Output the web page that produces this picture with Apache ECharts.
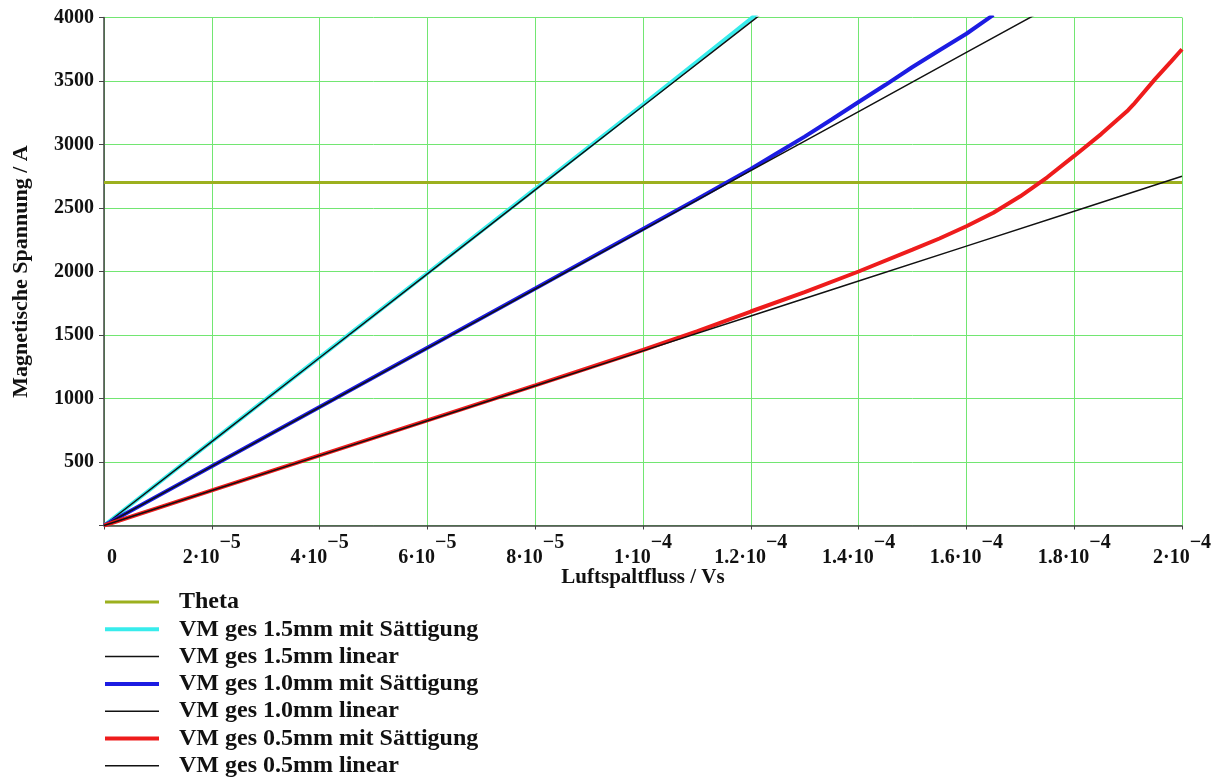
<!DOCTYPE html>
<html>
<head>
<meta charset="utf-8">
<title>Magnetische Spannung über Luftspaltfluss</title>
<script src="https://cdn.jsdelivr.net/npm/echarts@6/dist/echarts.min.js"></script>
<style>
  html, body { margin: 0; padding: 0; background: #ffffff; }
  #chart { width: 1219px; height: 780px; }
</style>
</head>
<body>
<div id="chart"></div>
<script>
// Luftspaltfluss in Vs (x) against magnetische Spannung in A (y)
var fluxTicks = [0, 2e-5, 4e-5, 6e-5, 8e-5, 1e-4, 1.2e-4, 1.4e-4, 1.6e-4, 1.8e-4, 2e-4];
var xTickLabels = [
  ['0', ''], ['2·10', '−5'], ['4·10', '−5'], ['6·10', '−5'], ['8·10', '−5'],
  ['1·10', '−4'], ['1.2·10', '−4'], ['1.4·10', '−4'], ['1.6·10', '−4'],
  ['1.8·10', '−4'], ['2·10', '−4']
];

var theta = 2700;

// linear models, sampled at the grid ticks
var lin15 = [0, 661, 1321, 1982, 2642, 3303, 3964, 4624];
var lin10 = [0, 466, 931, 1397, 1862, 2328, 2794, 3259, 3725, 4190];
var lin05 = [0, 275, 550, 825, 1100, 1375, 1650, 1925, 2200, 2475, 2750];

// curves including saturation
var sat15Flux = [0, 2e-5, 4e-5, 6e-5, 8e-5, 1e-4, 1.1e-4, 1.2e-4, 1.23e-4];
var sat15 = [0, 662, 1324, 1986, 2650, 3315, 3652, 3990, 4100];

var sat10Flux = [0, 2e-5, 4e-5, 6e-5, 8e-5, 1e-4, 1.1e-4, 1.2e-4, 1.25e-4, 1.3e-4, 1.35e-4,
                 1.4e-4, 1.45e-4, 1.5e-4, 1.55e-4, 1.6e-4, 1.65e-4];
var sat10 = [0, 467, 933, 1400, 1866, 2335, 2568, 2808, 2935, 3062, 3197,
             3335, 3470, 3610, 3742, 3872, 4020];

var sat05Flux = [0, 2e-5, 4e-5, 6e-5, 8e-5, 1e-4, 1.1e-4, 1.2e-4, 1.3e-4, 1.4e-4, 1.5e-4,
                 1.55e-4, 1.6e-4, 1.65e-4, 1.7e-4, 1.75e-4, 1.8e-4, 1.85e-4, 1.9e-4,
                 1.91e-4, 1.95e-4, 1.98e-4, 2e-4];
var sat05 = [0, 276, 552, 828, 1104, 1382, 1528, 1685, 1838, 2000, 2172,
             2260, 2356, 2462, 2592, 2742, 2910, 3082, 3270,
             3315, 3515, 3655, 3750];

var seriesNames = [
  'Theta',
  'VM ges 1.5mm mit Sättigung',
  'VM ges 1.5mm linear',
  'VM ges 1.0mm mit Sättigung',
  'VM ges 1.0mm linear',
  'VM ges 0.5mm mit Sättigung',
  'VM ges 0.5mm linear'
];

function pairs(xs, ys) {
  return ys.map(function (y, i) { return [xs[i], y]; });
}

var serif = "'Liberation Serif', 'Times New Roman', 'DejaVu Serif', serif";
var gridGreen = '#72e672';
var ink = '#111111';

var styles = [
  { color: '#9cb01e', width: 3 },
  { color: '#38ecec', width: 4 },
  { color: ink, width: 1.5 },
  { color: '#1c1ce2', width: 4 },
  { color: ink, width: 1.5 },
  { color: '#ee1c1c', width: 4 },
  { color: ink, width: 1.5 }
];

function lineSeries(i, data) {
  return {
    name: seriesNames[i],
    type: 'line',
    data: data,
    showSymbol: false,
    symbol: 'none',
    smooth: false,
    clip: true,
    lineStyle: { color: styles[i].color, width: styles[i].width },
    itemStyle: { color: styles[i].color },
    emphasis: { disabled: true }
  };
}

var chart = echarts.init(document.getElementById('chart'), null, { renderer: 'canvas' });

chart.setOption({
  animation: false,
  backgroundColor: '#ffffff',
  grid: { left: 104, right: 37, top: 17.5, bottom: 254.5 },
  xAxis: {
    type: 'value',
    min: 0,
    max: 2e-4,
    interval: 2e-5,
    name: 'Luftspaltfluss / Vs',
    nameLocation: 'middle',
    nameGap: 42,
    nameMoveOverlap: false,
    nameTextStyle: { fontFamily: serif, fontWeight: 'bold', fontSize: 21, color: ink, lineHeight: 21 },
    axisLine: { show: true, onZero: false, lineStyle: { color: '#444', width: 1.5 } },
    axisTick: { show: true, inside: false, length: 4, lineStyle: { color: '#444', width: 1 } },
    splitLine: { show: true, lineStyle: { color: gridGreen, width: 1 } },
    axisLabel: {
      margin: 7,
      showMinLabel: true,
      showMaxLabel: true,
      formatter: function (v) {
        var i = Math.round(v / 2e-5);
        var t = xTickLabels[i];
        if (!t) return '';
        if (!t[1]) return '{z|' + t[0] + '}{s| }';
        return '{b|' + t[0] + '}{s|' + t[1] + '}';
      },
      rich: {
        b: { fontFamily: serif, fontWeight: 'bold', fontSize: 20, color: ink, lineHeight: 35, verticalAlign: 'bottom' },
        z: { fontFamily: serif, fontWeight: 'bold', fontSize: 20, color: ink, lineHeight: 35, verticalAlign: 'bottom', padding: [0, 0, 0, 21] },
        s: { fontFamily: serif, fontWeight: 'bold', fontSize: 20, color: ink, lineHeight: 35, verticalAlign: 'top' }
      }
    }
  },
  yAxis: {
    type: 'value',
    min: 0,
    max: 4000,
    interval: 500,
    name: 'Magnetische Spannung / A',
    nameLocation: 'middle',
    nameGap: 72,
    nameMoveOverlap: false,
    nameTextStyle: { fontFamily: serif, fontWeight: 'bold', fontSize: 22, color: ink, lineHeight: 22 },
    axisLine: { show: true, onZero: false, lineStyle: { color: '#444', width: 1.5 } },
    axisTick: { show: true, inside: false, length: 5, lineStyle: { color: '#444', width: 1 } },
    splitLine: { show: true, lineStyle: { color: gridGreen, width: 1 } },
    axisLabel: {
      margin: 10,
      fontFamily: serif,
      fontWeight: 'bold',
      fontSize: 20,
      color: ink,
      formatter: function (v) { return v === 0 ? '' : String(v); }
    }
  },
  legend: {
    orient: 'vertical',
    left: 103,
    top: 590,
    padding: 0,
    itemWidth: 54,
    itemHeight: 10,
    itemGap: 3.3,
    selectedMode: false,
    data: seriesNames.map(function (n, i) {
      return { name: n, lineStyle: { color: styles[i].color, width: styles[i].width } };
    }),
    itemStyle: { color: 'rgba(0,0,0,0)', borderColor: 'rgba(0,0,0,0)', borderWidth: 0 },
    textStyle: {
      fontFamily: serif,
      fontWeight: 'bold',
      fontSize: 24,
      lineHeight: 24,
      color: ink,
      padding: [0, 0, 0, 15]
    }
  },
  series: [
    lineSeries(0, [[fluxTicks[0], theta], [fluxTicks[10], theta]]),
    lineSeries(1, pairs(sat15Flux, sat15)),
    lineSeries(2, pairs(fluxTicks, lin15)),
    lineSeries(3, pairs(sat10Flux, sat10)),
    lineSeries(4, pairs(fluxTicks, lin10)),
    lineSeries(5, pairs(sat05Flux, sat05)),
    lineSeries(6, pairs(fluxTicks, lin05))
  ]
});
</script>
</body>
</html>
